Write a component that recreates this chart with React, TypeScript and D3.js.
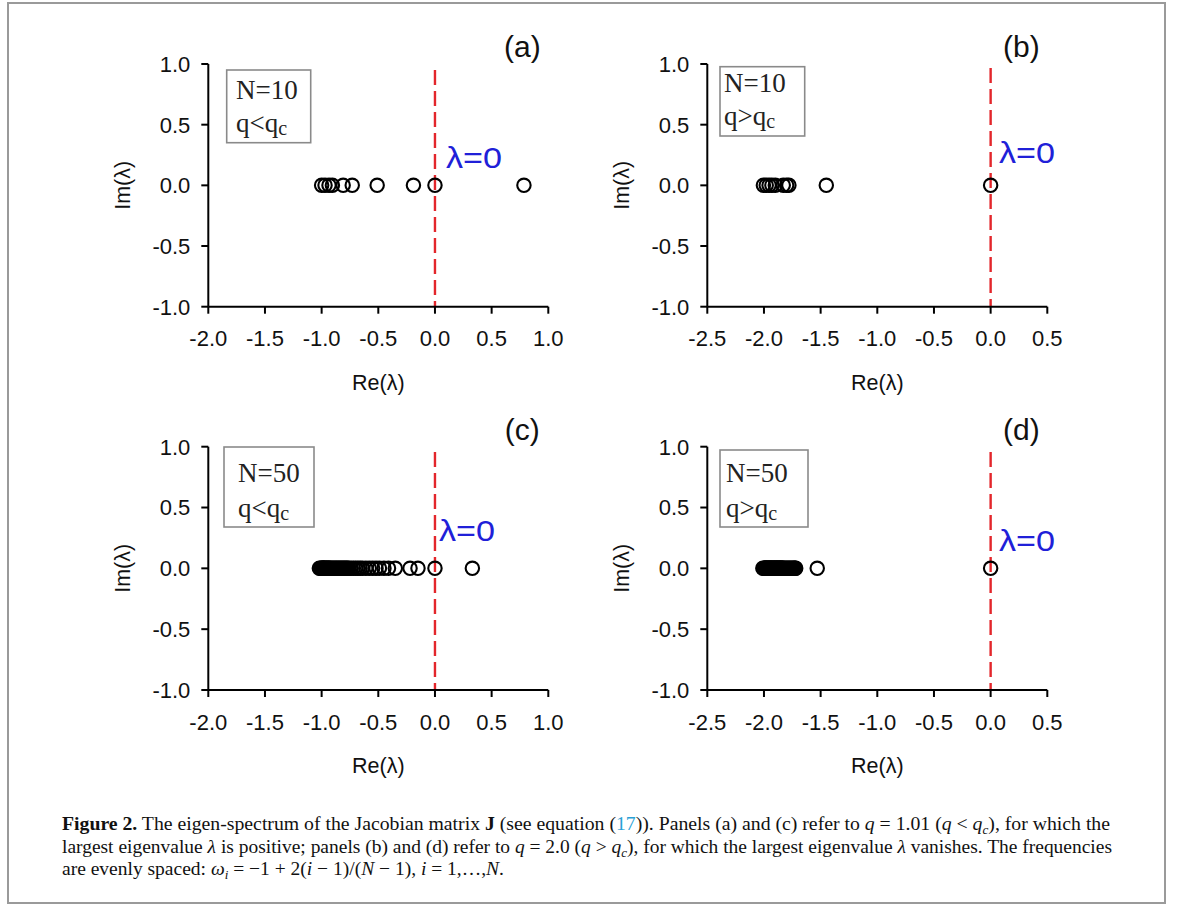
import React from "react";
import * as d3 from "d3";

// ---------- data ----------
const panelIds = ["a", "b", "c", "d"];
const panelLabels = ["(a)", "(b)", "(c)", "(d)"];
const legendLine1 = ["N=10", "N=10", "N=50", "N=50"];
const legendRel = ["<", ">", "<", ">"];
const xDomains: [number, number][] = [[-2, 1], [-2.5, 0.5], [-2, 1], [-2.5, 0.5]];
const xTicksA = [-2.0, -1.5, -1.0, -0.5, 0.0, 0.5, 1.0];
const xTicksB = [-2.5, -2.0, -1.5, -1.0, -0.5, 0.0, 0.5];
const yTicks = [-1.0, -0.5, 0.0, 0.5, 1.0];
const yDomain: [number, number] = [-1, 1];

// eigenvalues (real parts; imaginary parts are all zero)
const eigA = [-1.0, -0.97, -0.935, -0.905, -0.81, -0.73, -0.51, -0.19, 0.0, 0.785];
const eigB = [-2.005, -1.98, -1.955, -1.93, -1.9, -1.83, -1.8, -1.78, -1.45, 0.0];
const eigC = [
  -1.02, -1.01, -1.0, -0.995, -0.99, -0.985, -0.98, -0.975, -0.97, -0.96,
  -0.955, -0.95, -0.94, -0.935, -0.93, -0.92, -0.91, -0.9, -0.89, -0.88,
  -0.87, -0.86, -0.85, -0.84, -0.83, -0.82, -0.81, -0.8, -0.79, -0.78,
  -0.77, -0.76, -0.74, -0.72, -0.7, -0.68, -0.66, -0.64, -0.61, -0.58,
  -0.55, -0.52, -0.49, -0.45, -0.41, -0.35, -0.22, -0.15, 0.0, 0.33,
];
const eigD = [
  -2.01, -2.0, -1.995, -1.99, -1.985, -1.98, -1.975, -1.97, -1.965, -1.96,
  -1.955, -1.95, -1.945, -1.94, -1.935, -1.93, -1.925, -1.92, -1.915, -1.91,
  -1.905, -1.9, -1.895, -1.89, -1.885, -1.88, -1.875, -1.87, -1.865, -1.86,
  -1.855, -1.85, -1.845, -1.84, -1.835, -1.83, -1.82, -1.81, -1.8, -1.79,
  -1.78, -1.77, -1.76, -1.75, -1.74, -1.73, -1.725, -1.72, -1.53, 0.0,
];
const eigSets = [eigA, eigB, eigC, eigD];

// ---------- layout (pixels) ----------
const layout = [
  { x0: 208.3, x1: 548.3, y0: 64, y1: 306.7, box: [226.7, 70, 84, 72.7], tx: 236, tb: [99, 132], lam: [446, 168], dashTop: 70 },
  { x0: 707.3, x1: 1047.3, y0: 64, y1: 306.7, box: [720, 66.7, 84.7, 69.3], tx: 724, tb: [92, 125], lam: [999, 163], dashTop: 68 },
  { x0: 208.3, x1: 548.3, y0: 446.7, y1: 690, box: [224, 447, 90, 80], tx: 238, tb: [482, 517], lam: [439, 541], dashTop: 452 },
  { x0: 707.3, x1: 1047.3, y0: 446.7, y1: 690, box: [720, 450, 88, 77], tx: 726, tb: [482, 517], lam: [999, 551], dashTop: 452 },
];

const SANS = "'Liberation Sans', Arial, sans-serif";
const SERIF = "'Liberation Serif', 'Times New Roman', serif";

function Panel({ i }: { i: number }) {
  const L = layout[i];
  const x = d3.scaleLinear().domain(xDomains[i]).range([L.x0, L.x1]);
  const y = d3.scaleLinear().domain(yDomain).range([L.y1, L.y0]);
  const xt = i % 2 === 0 ? xTicksA : xTicksB;
  const fmt = d3.format(".1f");
  const tickLen = 7;
  const midY = (L.y0 + L.y1) / 2;
  const midX = (L.x0 + L.x1) / 2;
  return (
    <g>
      {/* red dashed line at Re = 0 */}
      <line x1={x(0)} x2={x(0)} y1={L.dashTop} y2={L.y1} stroke="#e3262b" strokeWidth={2.4} strokeDasharray="15,6" />
      {/* axes */}
      <line x1={L.x0} x2={L.x0} y1={L.y0} y2={L.y1} stroke="#000" strokeWidth={2} />
      <line x1={L.x0} x2={L.x1} y1={L.y1} y2={L.y1} stroke="#000" strokeWidth={2} />
      {yTicks.map((t) => (
        <g key={"y" + t}>
          <line x1={L.x0 - tickLen} x2={L.x0} y1={y(t)} y2={y(t)} stroke="#000" strokeWidth={2} />
          <text x={L.x0 - 18} y={y(t)} dy="0.36em" textAnchor="end" fontFamily={SANS} fontSize={22} fill="#111">
            {fmt(t).replace("−", "-")}
          </text>
        </g>
      ))}
      {xt.map((t) => (
        <g key={"x" + t}>
          <line x1={x(t)} x2={x(t)} y1={L.y1} y2={L.y1 + tickLen} stroke="#000" strokeWidth={2} />
          <text x={x(t)} y={L.y1 + 39.5} textAnchor="middle" fontFamily={SANS} fontSize={22} fill="#111">
            {fmt(t).replace("−", "-")}
          </text>
        </g>
      ))}
      {/* axis titles */}
      <text x={midX} y={L.y1 + 83} textAnchor="middle" fontFamily={SANS} fontSize={21.5} fill="#111">
        Re(λ)
      </text>
      <text transform={`translate(${L.x0 - 78},${midY}) rotate(-90)`} textAnchor="middle" fontFamily={SANS} fontSize={21.5} fill="#111">
        Im(λ)
      </text>
      {/* panel label */}
      <text x={L.x1 - 26} y={L.y0 - 7} textAnchor="middle" fontFamily={SANS} fontSize={30} fill="#111">
        {panelLabels[i]}
      </text>
      {/* legend box */}
      <rect x={L.box[0]} y={L.box[1]} width={L.box[2]} height={L.box[3]} fill="#fff" stroke="#8a8a8a" strokeWidth={1.6} />
      <text x={L.tx} y={L.tb[0]} fontFamily={SERIF} fontSize={27} fill="#222">
        {legendLine1[i]}
      </text>
      <text x={L.tx} y={L.tb[1]} fontFamily={SERIF} fontSize={27} fill="#222">
        {"q" + legendRel[i] + "q"}
        <tspan fontSize={20} dy={3}>c</tspan>
      </text>
      {/* lambda = 0 */}
      <text x={L.lam[0]} y={L.lam[1]} fontFamily={SANS} fontSize={30} fill="#2020d8" textLength={56} lengthAdjust="spacingAndGlyphs">
        λ=0
      </text>
      {/* eigenvalues */}
      {eigSets[i].map((v, k) => (
        <circle key={k} cx={x(v)} cy={y(0)} r={6.7} fill="none" stroke="#000" strokeWidth={2.1} />
      ))}
    </g>
  );
}

type Seg = { t: string; b?: boolean; it?: boolean; sub?: boolean; c?: string };
const capLines: { segs: Seg[]; len?: number; y: number }[] = [
  {
    y: 830,
    len: 1048,
    segs: [
      { t: "Figure 2.", b: true },
      { t: " The eigen-spectrum of the Jacobian matrix " },
      { t: "J", b: true },
      { t: " (see equation (" },
      { t: "17", c: "#2a9fd6" },
      { t: ")). Panels (a) and (c) refer to " },
      { t: "q", it: true },
      { t: " = 1.01 (" },
      { t: "q", it: true },
      { t: " < " },
      { t: "q", it: true },
      { t: "c", it: true, sub: true },
      { t: "), for which the" },
    ],
  },
  {
    y: 852.5,
    len: 1050,
    segs: [
      { t: "largest eigenvalue " },
      { t: "λ", it: true },
      { t: " is positive; panels (b) and (d) refer to " },
      { t: "q", it: true },
      { t: " = 2.0 (" },
      { t: "q", it: true },
      { t: " > " },
      { t: "q", it: true },
      { t: "c", it: true, sub: true },
      { t: "), for which the largest eigenvalue " },
      { t: "λ", it: true },
      { t: " vanishes. The frequencies" },
    ],
  },
  {
    y: 875,
    segs: [
      { t: "are evenly spaced: " },
      { t: "ω", it: true },
      { t: "i", it: true, sub: true },
      { t: " = −1 + 2(" },
      { t: "i", it: true },
      { t: " − 1)/(" },
      { t: "N", it: true },
      { t: " − 1), " },
      { t: "i", it: true },
      { t: " = 1,…," },
      { t: "N", it: true },
      { t: "." },
    ],
  },
];

function Caption() {
  return (
    <g>
      {capLines.map((ln, li) => {
        let prevSub = false;
        return (
          <text
            key={li}
            x={62}
            y={ln.y}
            fontFamily={SERIF}
            fontSize={19.5}
            fill="#111"
            textLength={ln.len}
            lengthAdjust={ln.len ? "spacingAndGlyphs" : undefined}
          >
            {ln.segs.map((s, k) => {
              let dy: number | undefined = undefined;
              if (s.sub && !prevSub) dy = 4;
              else if (!s.sub && prevSub) dy = -4;
              prevSub = !!s.sub;
              return (
                <tspan
                  key={k}
                  dy={dy}
                  fontWeight={s.b ? "bold" : undefined}
                  fontStyle={s.it ? "italic" : undefined}
                  fontSize={s.sub ? 13 : undefined}
                  fill={s.c}
                >
                  {s.t}
                </tspan>
              );
            })}
          </text>
        );
      })}
    </g>
  );
}

export default function App() {
  return (
    <svg
      width={1182}
      height={906}
      viewBox="0 0 1182 906"
      style={{ position: "absolute", left: 0, top: 0, background: "#fff" }}
    >
      <rect x={0} y={0} width={1182} height={906} fill="#fff" />
      <rect x={8} y={3} width={1157} height={900} fill="none" stroke="#9a9a9a" strokeWidth={2} />
      {panelIds.map((id, i) => (
        <Panel key={id} i={i} />
      ))}
      <Caption />
    </svg>
  );
}
